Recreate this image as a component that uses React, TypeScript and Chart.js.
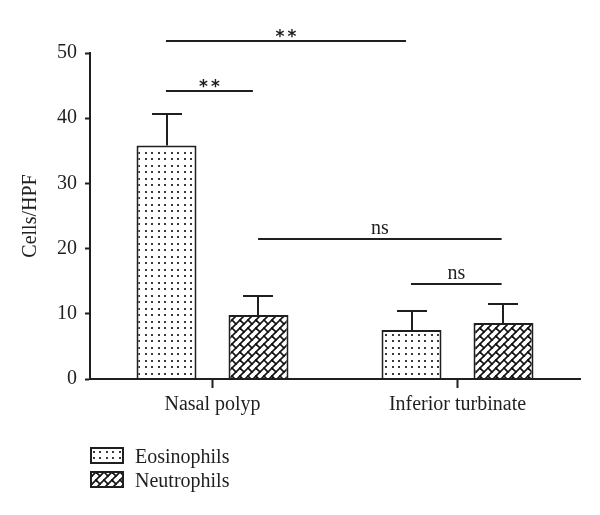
import React, { useEffect, useRef } from 'react';
import { Chart, registerables } from 'chart.js';

Chart.register(...registerables);

const categories = ['Nasal polyp', 'Inferior turbinate'];
const seriesNames = ['Eosinophils', 'Neutrophils'];
const eosinophils = [35.8, 7.5];
const neutrophils = [9.8, 8.6];
const eosinophilsErr = [4.9, 2.9];
const neutrophilsErr = [3.0, 2.9];
const yTicks = [0, 10, 20, 30, 40, 50];
const yTitle = 'Cells/HPF';
// significance brackets: x in category units, y in data units
const bracketFrom = [-0.19, -0.19, 0.186, 0.81];
const bracketTo = [0.79, 0.165, 1.18, 1.18];
const bracketY = [51.9, 44.2, 21.5, 14.6];
const bracketLabels = ['**', '**', 'ns', 'ns'];

const FONT = '"Liberation Serif", "Times New Roman", serif';
const INK = '#1f1f1f';

function dotPattern(ctx: CanvasRenderingContext2D) {
  const c = document.createElement('canvas');
  c.width = 13;
  c.height = 13;
  const g = c.getContext('2d')!;
  g.fillStyle = '#ffffff';
  g.fillRect(0, 0, 13, 13);
  g.fillStyle = '#3a3a3a';
  for (const px of [2, 8]) {
    for (const py of [2, 9]) {
      g.fillRect(px, py, 2, 2);
    }
  }
  return ctx.createPattern(c, 'repeat')!;
}

function brickPattern(ctx: CanvasRenderingContext2D) {
  const S = 16, D = 8, E = 16;
  const c = document.createElement('canvas');
  c.width = S;
  c.height = S;
  const g = c.getContext('2d')!;
  g.fillStyle = '#ffffff';
  g.fillRect(0, 0, S, S);
  g.strokeStyle = '#111111';
  g.lineWidth = 1.6;
  g.lineCap = 'square';
  for (let k = -3; k <= 7; k++) {
    const cc = k * D;
    g.beginPath();
    g.moveTo(cc + 40, -40);
    g.lineTo(cc - 40, 40);
    g.stroke();
    const par = ((k % 2) + 2) % 2;
    const off = par === 0 ? 0 : E / 2;
    for (let m = -3; m <= 3; m++) {
      const cm = m * E + off;
      g.beginPath();
      g.moveTo((cc + cm) / 2, (cc - cm) / 2);
      g.lineTo((cc + D + cm) / 2, (cc + D - cm) / 2);
      g.stroke();
    }
  }
  return ctx.createPattern(c, 'repeat')!;
}

const annotPlugin = {
  id: 'annot',
  afterDatasetsDraw(chart: any) {
    const ctx: CanvasRenderingContext2D = chart.ctx;
    const xs = chart.scales.x;
    const ys = chart.scales.y;
    const area = chart.chartArea;
    ctx.save();
    ctx.strokeStyle = INK;
    ctx.lineWidth = 2;
    ctx.lineCap = 'butt';
    // error bars
    chart.data.datasets.forEach((ds: any, di: number) => {
      const meta = chart.getDatasetMeta(di);
      meta.data.forEach((bar: any, i: number) => {
        const top = Math.round(ys.getPixelForValue(ds.data[i] + ds.errors[i]));
        const cx = Math.round(bar.x);
        const hw = Math.round(bar.width / 4);
        ctx.beginPath();
        ctx.moveTo(cx, bar.y);
        ctx.lineTo(cx, top);
        ctx.moveTo(cx - hw, top);
        ctx.lineTo(cx + hw, top);
        ctx.stroke();
      });
    });
    // significance brackets
    ctx.fillStyle = INK;
    ctx.textAlign = 'center';
    bracketLabels.forEach((lab, i) => {
      const x1 = xs.getPixelForValue(bracketFrom[i]);
      const x2 = xs.getPixelForValue(bracketTo[i]);
      const y = Math.round(ys.getPixelForValue(bracketY[i]));
      ctx.beginPath();
      ctx.moveTo(x1, y);
      ctx.lineTo(x2, y);
      ctx.stroke();
      const mid = (x1 + x2) / 2;
      ctx.textBaseline = 'alphabetic';
      if (lab === 'ns') {
        ctx.font = `20px ${FONT}`;
        ctx.fillText(lab, mid, y - 5);
      } else {
        ctx.font = `bold 17px "DejaVu Sans", sans-serif`;
        const chars = lab.split('');
        const gap = 12;
        chars.forEach((ch, j) => {
          ctx.fillText(ch, mid + (j - (chars.length - 1) / 2) * gap, y + 1);
        });
      }
    });
    // legend
    const lx = area.left + 1;
    const ly0 = area.bottom + 69;
    chart.data.datasets.forEach((ds: any, di: number) => {
      const by = ly0 + di * 24;
      ctx.fillStyle = ds.backgroundColor;
      ctx.fillRect(lx, by, 32, 15);
      ctx.strokeStyle = INK;
      ctx.lineWidth = 2;
      ctx.strokeRect(lx, by, 32, 15);
      ctx.fillStyle = INK;
      ctx.font = `20px ${FONT}`;
      ctx.textAlign = 'left';
      ctx.textBaseline = 'alphabetic';
      ctx.fillText(ds.label, lx + 44, by + 15);
    });
    ctx.restore();
  },
};

export default function App() {
  const ref = useRef<HTMLCanvasElement>(null);
  useEffect(() => {
    const canvas = ref.current!;
    const ctx = canvas.getContext('2d')!;
    const chart = new Chart(ctx, {
      type: 'bar',
      data: {
        labels: categories,
        datasets: [
          {
            label: seriesNames[0],
            data: eosinophils,
            errors: eosinophilsErr,
            backgroundColor: dotPattern(ctx),
            borderColor: INK,
            borderWidth: 2,
            categoryPercentage: 0.751,
            barPercentage: 0.652,
          } as any,
          {
            label: seriesNames[1],
            data: neutrophils,
            errors: neutrophilsErr,
            backgroundColor: brickPattern(ctx),
            borderColor: INK,
            borderWidth: 2,
            categoryPercentage: 0.751,
            barPercentage: 0.652,
          } as any,
        ],
      },
      options: {
        responsive: false,
        animation: false,
        devicePixelRatio: 1,
        layout: { padding: { left: 0, right: 20, top: 53, bottom: 96 } },
        plugins: {
          legend: { display: false },
          tooltip: { enabled: false },
        },
        scales: {
          x: {
            type: 'category',
            offset: true,
            afterFit: (s: any) => { s.height = 40; },
            grid: {
              offset: false,
              drawOnChartArea: false,
              drawTicks: true,
              tickLength: 9,
              tickWidth: 2,
              tickColor: INK,
            },
            border: { display: true, color: INK, width: 2, z: 1 },
            ticks: {
              color: INK,
              padding: 5,
              font: { family: FONT, size: 20 },
              maxRotation: 0,
            },
          },
          y: {
            type: 'linear',
            min: yTicks[0],
            max: yTicks[yTicks.length - 1],
            afterFit: (s: any) => { s.width = 90; },
            afterBuildTicks: (s: any) => { s.ticks = yTicks.map((v) => ({ value: v })); },
            grid: {
              drawOnChartArea: false,
              drawTicks: true,
              tickLength: 5,
              tickWidth: 2,
              tickColor: INK,
            },
            border: { display: true, color: INK, width: 2 },
            ticks: {
              color: INK,
              padding: 8,
              font: { family: FONT, size: 20 },
            },
            title: {
              display: true,
              text: yTitle,
              color: INK,
              font: { family: FONT, size: 20 },
              padding: { top: 19, bottom: 0 },
            },
          },
        },
      },
      plugins: [annotPlugin],
    });
    return () => chart.destroy();
  }, []);
  return (
    <div style={{ position: 'fixed', left: 0, top: 0, width: 600, height: 515, background: '#ffffff' }}>
      <canvas ref={ref} width={600} height={515} />
    </div>
  );
}
